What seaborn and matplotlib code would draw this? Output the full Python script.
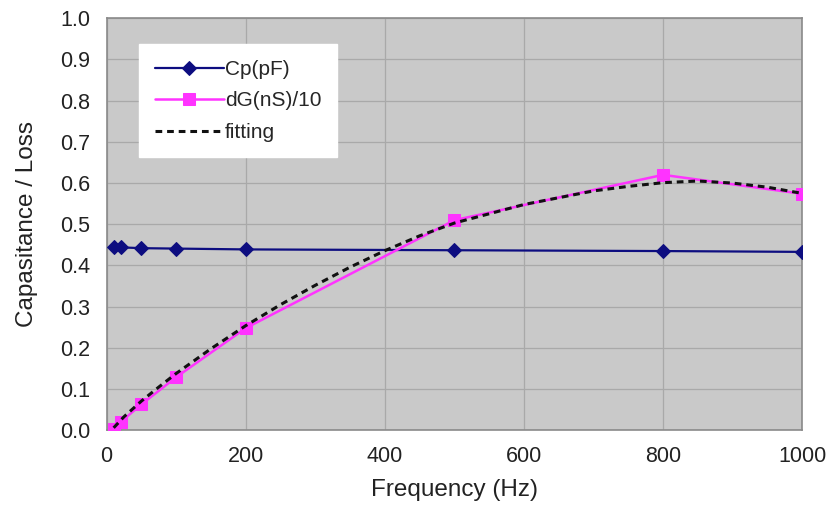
import matplotlib
matplotlib.use("Agg")
import matplotlib.pyplot as plt
import seaborn as sns
import pandas as pd

# Measured capacitance and conductance loss vs. frequency
freq = [10, 20, 50, 100, 200, 500, 800, 1000]
cp_pf = [0.445, 0.444, 0.442, 0.441, 0.439, 0.437, 0.435, 0.433]
dg_ns10 = [0.002, 0.020, 0.063, 0.129, 0.248, 0.510, 0.620, 0.574]

# Fitted loss curve
fit_freq = [10, 25, 50, 75, 100, 150, 200, 250, 300, 350, 400, 450, 500,
            600, 700, 750, 800, 850, 900, 950, 1000]
fit_val = [0.006, 0.033, 0.071, 0.105, 0.138, 0.198, 0.254, 0.305, 0.352,
           0.396, 0.436, 0.472, 0.503, 0.548, 0.581, 0.592, 0.601, 0.605,
           0.600, 0.590, 0.575]

x_ticks = [0, 200, 400, 600, 800, 1000]
y_ticks = [0.0, 0.1, 0.2, 0.3, 0.4, 0.5, 0.6, 0.7, 0.8, 0.9, 1.0]

sns.set_theme(style="white")
plt.rcParams["font.family"] = ["Liberation Sans", "DejaVu Sans"]

meas = pd.DataFrame({"freq": freq, "Cp(pF)": cp_pf, "dG(nS)/10": dg_ns10})
fit = pd.DataFrame({"freq": fit_freq, "fitting": fit_val})

fig = plt.figure(figsize=(8.27, 5.08), dpi=100)
ax = fig.add_axes([0.129, 0.153, 0.841, 0.811])
ax.set_facecolor("#c9c9c9")

sns.lineplot(data=meas, x="freq", y="Cp(pF)", ax=ax, color="#0d0d80",
             marker="D", markersize=7, markeredgecolor="#0d0d80",
             linewidth=1.6, label="Cp(pF)", zorder=3)
sns.lineplot(data=meas, x="freq", y="dG(nS)/10", ax=ax, color="#ff33ff",
             marker="s", markersize=8, markeredgecolor="#ff33ff",
             linewidth=1.8, label="dG(nS)/10", zorder=4)
sns.lineplot(data=fit, x="freq", y="fitting", ax=ax, color="#111111",
             linestyle=(0, (2.2, 1.6)), linewidth=2.2, label="fitting",
             zorder=5)

ax.set_xlim(0, 1000)
ax.set_ylim(0, 1.0)
ax.set_xticks(x_ticks)
ax.set_yticks(y_ticks)
ax.set_xticklabels([str(v) for v in x_ticks])
ax.set_yticklabels([f"{v:.1f}" for v in y_ticks])
ax.tick_params(axis="x", labelsize=15.5, length=0, pad=11, colors="#222222")
ax.tick_params(axis="y", labelsize=15.5, length=0, pad=12, colors="#222222")
ax.grid(True, color="#a9a9a9", linewidth=0.9)
ax.set_axisbelow(True)
for s in ax.spines.values():
    s.set_color("#8a8a8a")
    s.set_linewidth(1.2)

ax.set_xlabel("Frequency (Hz)", fontsize=17.5, color="#222222", labelpad=9)
ax.set_ylabel("Capasitance / Loss", fontsize=17.5, color="#222222",
              labelpad=16)

leg = ax.legend(loc="upper left", bbox_to_anchor=(0.047, 0.937),
                borderaxespad=0, frameon=True, fancybox=False,
                fontsize=15, handlelength=3.3, handletextpad=0.05,
                borderpad=0.75, labelspacing=0.6)
leg.get_frame().set_facecolor("white")
leg.get_frame().set_edgecolor("white")
leg.get_frame().set_alpha(1.0)

fig.savefig("out.png", dpi=100, facecolor="white")
